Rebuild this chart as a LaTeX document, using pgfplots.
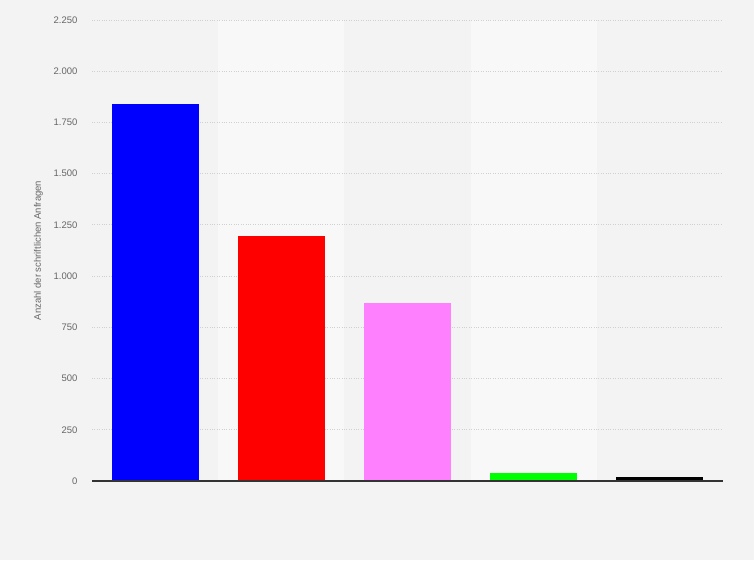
\documentclass[border=0pt]{standalone}
\usepackage{fontspec}
\setmainfont{Liberation Sans}
\usepackage{pgfplots}
\pgfplotsset{compat=1.18}

\definecolor{bgouter}{HTML}{F3F3F3}
\definecolor{bgband}{HTML}{F8F8F8}
\definecolor{gridc}{HTML}{D0D0D0}
\definecolor{tickc}{HTML}{666666}
\definecolor{pinkbar}{HTML}{FF80FF}

\begin{document}
\begin{tikzpicture}
\begin{axis}[
    set layers,
    clip=false,
    scale only axis,
    width=631pt, height=461pt,
    xmin=0.5, xmax=5.5,
    ymin=0, ymax=2250,
    ytick={0,250,...,2250},
    xtick=\empty,
    axis line style={draw=none},
    ymajorgrids,
    grid style={gridc, dotted, line width=0.9pt},
    major tick length=0pt,
    tick label style={font=\fontsize{9.5}{10}\selectfont, text=tickc},
    yticklabel style={/pgf/number format/.cd, 1000 sep={.}, assume math mode=true},
    ylabel={Anzahl der schriftlichen Anfragen},
    every axis y label/.style={at={(ticklabel cs:0.5)}, rotate=90, anchor=near ticklabel,
        font=\fontsize{9.5}{10}\selectfont, text=tickc},
    ylabel shift=4pt,
    yticklabel shift=11pt,
    ybar, bar width=87pt, bar shift=0pt,
]
\begin{pgfonlayer}{axis background}
% page background (754 x 560)
\fill[bgouter] ([xshift=-92pt,yshift=-79pt]rel axis cs:0,0) rectangle ([xshift=31pt,yshift=20pt]rel axis cs:1,1);
% alternating column bands
\fill[bgband] (axis cs:1.5,0) rectangle (axis cs:2.5,2250);
\fill[bgband] (axis cs:3.5,0) rectangle (axis cs:4.5,2250);
\end{pgfonlayer}

\addplot[fill=blue, draw=none] coordinates {(1,1840)};
\addplot[fill=red, draw=none] coordinates {(2,1198)};
\addplot[fill=pinkbar, draw=none] coordinates {(3,868)};
\addplot[fill=green, draw=none] coordinates {(4,41)};
\addplot[fill=black, draw=none] coordinates {(5,20)};

\draw[black!80, line width=1.5pt] (axis cs:0.5,0) -- (axis cs:5.5,0);
\end{axis}
\end{tikzpicture}
\end{document}
